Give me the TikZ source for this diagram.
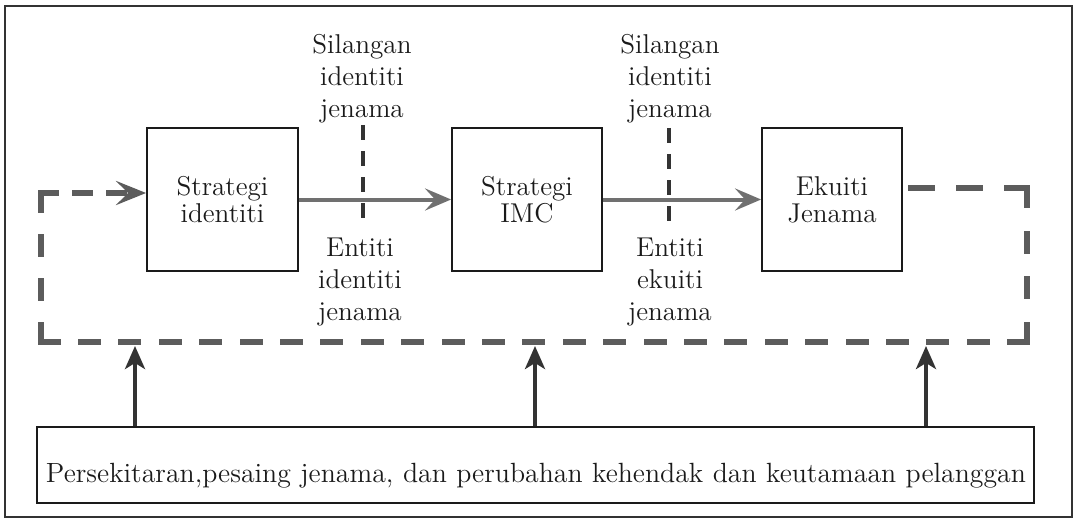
\documentclass[tikz,border=0pt]{standalone}
\usepackage{fontspec}
\usetikzlibrary{arrows.meta}
\definecolor{ink}{HTML}{1A1A1A}
\definecolor{dashgray}{HTML}{5C5C5C}
\definecolor{arrowgray}{HTML}{707070}
\definecolor{upink}{HTML}{333333}
\newcommand\diafont{\fontsize{13.6}{16}\selectfont}
\newcommand\boxtextfont{\fontsize{13.6}{13.5}\selectfont}
\newcommand\envfont{\fontsize{13.9}{16}\selectfont}

\begin{document}
\begin{tikzpicture}[x=0.5pt,y=-0.5pt,
  box/.style={draw=ink, line width=0.9pt, inner sep=0pt, align=center, font=\boxtextfont, text=ink},
  lbl/.style={inner sep=0pt, align=center, font=\diafont, text=ink, anchor=north},
  flow/.style={draw=arrowgray, line width=2pt, -{Stealth[length=13pt,width=11pt,inset=5pt]}},
  loopseg/.style={draw=dashgray, line width=3.25pt, line cap=rect},
  cross/.style={draw=upink, line width=2pt, dash pattern=on 7.5pt off 5.5pt},
  push/.style={draw=upink, line width=2pt, -{Stealth[length=11.5pt,width=10pt,inset=3pt]}},
  frame/.style={draw=upink, line width=1pt}]

\useasboundingbox (0,0) rectangle (1076,519);
\draw[frame] (5,6) rectangle (1072,517);

% main chain of strategy boxes
\node[box, minimum width=75.5pt, minimum height=71.5pt] (si) at (222.5,199.5) {Strategi\\identiti};
\node[box, minimum width=75pt, minimum height=71.5pt] (imc) at (527,199.5) {Strategi\\IMC};
\node[box, minimum width=70pt, minimum height=71.5pt] (ej) at (832,199.5) {Ekuiti\\Jenama};

\draw[flow] (si.east) -- (imc.west);
\draw[flow] (imc.east) -- (ej.west);

% crossing markers between the boxes
\coordinate (x1a) at (363,125);
\coordinate (x1b) at (363,218);
\coordinate (x2a) at (669,128);
\coordinate (x2b) at (669,221);
\draw[cross] (x1a) -- (x1b);
\draw[cross] (x2a) -- (x2b);

\node[lbl] (s1) at (362,34) {Silangan\\identiti\\jenama};
\node[lbl] (e1) at (360,237.5) {Entiti\\identiti\\jenama};
\node[lbl] (s2) at (670,34) {Silangan\\identiti\\jenama};
\node[lbl] (e2) at (670,237.5) {Entiti\\ekuiti\\jenama};

% dashed feedback loop from brand equity back to identity strategy
\coordinate (fA) at (911,188);
\coordinate (fB) at (1027,188);
\coordinate (fC) at (1027,342);
\coordinate (fD) at (41,342);
\coordinate (fE) at (41,193);
\draw[loopseg, dash pattern=on 10.25pt off 13.75pt] (fA) -- (fB);
\draw[loopseg, dash pattern=on 8.25pt off 14.67pt] (fB) -- (fC);
\draw[loopseg, dash pattern=on 8.25pt off 11.95pt] (fC) -- (fD);
\draw[loopseg, dash pattern=on 8.25pt off 13.83pt] (fD) -- (fE);
\draw[loopseg, dash pattern=on 7.25pt off 9.75pt, -{Stealth[length=15pt,width=12pt,inset=6pt]}] (fE) -- (fE -| si.west);

% environment box and its influence on the loop
\node[draw=ink, line width=0.9pt, minimum width=498.5pt, minimum height=38pt, inner sep=0pt] (env) at (535.5,465) {};
\node[inner sep=0pt, anchor=base, font=\envfont, text=ink] (envtext) at (536,482)
  {\makebox[490pt][s]{Persekitaran,pesaing jenama, dan perubahan kehendak dan keutamaan pelanggan}};

\coordinate (u1) at (135,346);
\coordinate (u2) at (535,346);
\coordinate (u3) at (926,346);
\draw[push] (env.north -| u1) -- (u1);
\draw[push] (env.north -| u2) -- (u2);
\draw[push] (env.north -| u3) -- (u3);
\end{tikzpicture}
\end{document}
